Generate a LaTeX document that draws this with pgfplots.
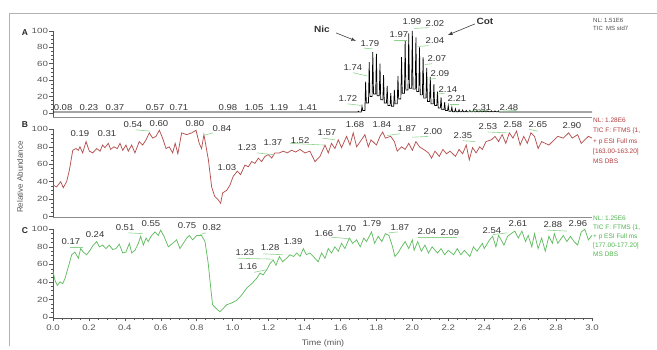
\documentclass[border=0pt]{standalone}
\usepackage{fontspec}
\setmainfont{Liberation Sans}
\usepackage{pgfplots}
\pgfplotsset{compat=1.18}
\definecolor{tracered}{HTML}{B5504F}
\definecolor{tracegreen}{HTML}{62BE62}
\definecolor{leader}{HTML}{8ED48E}
\definecolor{txtred}{HTML}{B03A3A}
\definecolor{txtgreen}{HTML}{4DB34D}
\definecolor{axgray}{HTML}{555555}
\pgfplotsset{
 panel/.style={
  scale only axis, width=539pt, xmin=0, xmax=3,
  axis x line*=bottom, axis y line*=left, clip=false,
  ytick={0,20,40,60,80,100}, minor y tick num=3,
  tick align=outside,
  major tick length=3.5pt, minor tick length=2pt,
  tick style={axgray, line width=0.5pt},
  axis line style={axgray, line width=0.7pt},
  yticklabel style={font=\fontsize{7.5}{8}\selectfont, text=axgray, inner sep=1pt, xscale=1.3},
  xticklabel style={font=\fontsize{8}{9}\selectfont, text=axgray, xscale=1.2},
  /pgf/number format/assume math mode=true,
 },
}
\tikzset{
 lab/.style={font=\fontsize{8.5}{9}\selectfont, text=black!80, inner sep=0pt, xscale=1.12},
 ld/.style={leader, line width=0.6pt},
}
\begin{document}
\begin{tikzpicture}
\useasboundingbox (0pt,0pt) rectangle (657pt,349pt);
\draw[black!30, line width=0.8pt] (9pt,3pt) -- (9pt,336pt) -- (657pt,336pt);

% ---------------- Panel A ----------------
\begin{axis}[panel, at={(53pt,232pt)}, anchor=south west, height=86.1pt,
  ymin=-5, ymax=100, xtick=\empty, x axis line style={black!45, line width=1pt}]
\addplot[black, line width=0.7pt] coordinates {
(0,1)(0.5,1)(1.0,1)(1.5,1)(1.696,1)(1.70,2)(1.704,1)
(1.716,1)(1.72,8)(1.724,3)
(1.736,3)(1.74,38)(1.744,12)
(1.756,12)(1.76,62)(1.764,20)
(1.776,20)(1.78,74)(1.784,23)
(1.796,23)(1.80,72)(1.804,21)
(1.816,21)(1.82,60)(1.824,16)
(1.836,16)(1.84,46)(1.844,12)
(1.856,12)(1.86,33)(1.864,9)
(1.876,9)(1.88,24)(1.884,8)
(1.896,8)(1.90,28)(1.904,11)
(1.916,11)(1.92,45)(1.924,17)
(1.936,17)(1.94,68)(1.944,24)
(1.956,24)(1.96,88)(1.964,28)
(1.976,28)(1.98,97)(1.984,30)
(1.996,30)(2.00,100)(2.004,29)
(2.016,29)(2.02,92)(2.024,26)
(2.036,26)(2.04,80)(2.044,22)
(2.056,22)(2.06,68)(2.064,18)
(2.076,18)(2.08,55)(2.084,14)
(2.096,14)(2.10,44)(2.104,11)
(2.116,11)(2.12,35)(2.124,9)
(2.136,9)(2.14,26)(2.144,6)
(2.156,6)(2.16,19)(2.164,4)
(2.176,4)(2.18,13)(2.184,3)
(2.196,3)(2.20,9)(2.204,2)
(2.216,2)(2.22,7)(2.224,1.5)
(2.236,1.5)(2.24,5)(2.244,1.5)
(2.256,1.5)(2.26,4)(2.264,1.5)
(2.276,1.5)(2.28,3.5)(2.284,1.5)
(2.296,1.5)(2.30,3)(2.304,1.5)
(2.316,1.5)(2.32,3)(2.324,1.5)
(2.336,1.5)(2.34,3)(2.344,1.5)
(2.356,1.5)(2.36,3)(2.364,1.5)
(2.376,1.5)(2.38,3)(2.384,1.5)
(2.396,1.5)(2.40,3)(2.404,1.5)
(2.416,1.5)(2.42,2.5)(2.424,1.5)
(2.436,1.5)(2.44,2.5)(2.444,1.5)
(2.456,1.5)(2.46,2.5)(2.464,1.5)
(2.476,1.5)(2.48,2.5)(2.484,1)
(2.6,1)(3.0,1)};
\node[lab] at (axis cs:0.056,6.1) {0.08};
\node[lab] at (axis cs:0.200,6.1) {0.23};
\node[lab] at (axis cs:0.345,6.1) {0.37};
\node[lab] at (axis cs:0.568,6.1) {0.57};
\node[lab] at (axis cs:0.701,6.1) {0.71};
\node[lab] at (axis cs:0.974,6.1) {0.98};
\node[lab] at (axis cs:1.119,6.1) {1.05};
\node[lab] at (axis cs:1.258,6.1) {1.19};
\node[lab] at (axis cs:1.419,6.1) {1.41};
\node[lab] at (axis cs:1.642,17) {1.72};
\node[lab] at (axis cs:1.669,55) {1.74};
\node[lab] at (axis cs:1.764,85) {1.79};
\node[lab] at (axis cs:1.925,96) {1.97};
\node[lab] at (axis cs:1.998,111) {1.99};
\node[lab] at (axis cs:2.126,109) {2.02};
\node[lab] at (axis cs:2.126,88) {2.04};
\node[lab] at (axis cs:2.137,66) {2.07};
\node[lab] at (axis cs:2.154,48) {2.09};
\node[lab] at (axis cs:2.198,29) {2.14};
\node[lab] at (axis cs:2.248,17) {2.21};
\node[lab] at (axis cs:2.387,7) {2.31};
\node[lab] at (axis cs:2.538,7) {2.48};
\draw[ld] (axis cs:1.64,11) -- (axis cs:1.72,9);
\draw[ld] (axis cs:1.67,49) -- (axis cs:1.75,45);
\draw[ld] (axis cs:1.73,79) -- (axis cs:1.78,78);
\draw[ld] (axis cs:1.90,89) -- (axis cs:1.97,89);
\draw[ld] (axis cs:2.01,103) -- (axis cs:2.09,104);
\draw[ld] (axis cs:2.03,81) -- (axis cs:2.09,82);
\draw[ld] (axis cs:2.07,59) -- (axis cs:2.11,60);
\draw[ld] (axis cs:2.09,41) -- (axis cs:2.13,42);
\draw[ld] (axis cs:2.14,23) -- (axis cs:2.18,24);
\draw[ld] (axis cs:2.21,11) -- (axis cs:2.26,11);
\draw[ld] (axis cs:2.31,2) -- (axis cs:2.42,3);
\draw[ld] (axis cs:2.48,2) -- (axis cs:2.58,3);
\node[font=\fontsize{9}{10}\selectfont\bfseries, text=black!80, inner sep=0pt, xscale=1.12] at (axis cs:1.497,102) {Nic};
\draw[-latex, black!75, line width=0.6pt] (axis cs:1.575,97.6) -- (axis cs:1.686,87.8);
\node[font=\fontsize{9}{10}\selectfont\bfseries, text=black!80, inner sep=0pt, xscale=1.12] at (axis cs:2.404,111) {Cot};
\draw[-latex, black!75, line width=0.6pt] (axis cs:2.348,108.5) -- (axis cs:2.198,95);
\end{axis}

% ---------------- Panel B ----------------
\begin{axis}[panel, at={(53pt,131.7pt)}, anchor=south west, height=87.9pt,
  ymin=-1, ymax=100, xtick=\empty, x axis line style={black!45, line width=1pt}]
\addplot[tracered, line width=0.75pt] coordinates {
(0,36)(0.02,34)(0.043,40)(0.057,33)(0.076,40)(0.091,53)(0.11,76)(0.128,78)(0.141,76)(0.15,80)(0.165,73)
(0.184,86)(0.202,75)(0.221,73)(0.243,78)(0.262,75)(0.276,82)(0.289,79)(0.308,84)(0.321,77)(0.339,80)
(0.358,78)(0.373,84)(0.388,76)(0.406,82)(0.419,75)(0.438,82)(0.456,73)(0.48,86)(0.499,82)(0.518,88)
(0.536,96)(0.555,90)(0.573,92)(0.592,99)(0.61,90)(0.629,78)(0.647,80)(0.666,73)(0.68,84)(0.695,72)
(0.716,96)(0.744,94)(0.772,96)(0.796,99)(0.814,84)(0.827,78)(0.84,94)(0.865,65)(0.883,34)(0.9,23)
(0.92,19)(0.933,15)(0.944,27)(0.967,30)(0.985,36)(1.003,46)(1.026,52)(1.044,48)(1.068,59)(1.087,57)
(1.106,63)(1.124,61)(1.143,67)(1.161,63)(1.18,69)(1.198,71)(1.217,67)(1.235,73)(1.26,73)(1.282,75)
(1.304,73)(1.328,76)(1.35,74)(1.375,77)(1.402,73)(1.43,75)(1.458,63)(1.486,69)(1.514,82)(1.532,73)
(1.55,84)(1.569,78)(1.588,88)(1.606,79)(1.634,92)(1.653,82)(1.671,96)(1.69,80)(1.71,86)(1.736,94)
(1.755,80)(1.77,88)(1.8,82)(1.82,92)(1.835,97)(1.85,90)(1.88,92)(1.9,86)(1.916,75)(1.94,80)(1.96,77)
(1.98,84)(2.0,76)(2.02,86)(2.04,80)(2.07,76)(2.09,73)(2.107,67)(2.126,75)(2.15,69)(2.17,77)(2.19,72)
(2.21,75)(2.24,69)(2.26,77)(2.28,72)(2.3,82)(2.317,65)(2.335,79)(2.355,73)(2.375,80)(2.39,77)(2.41,86)
(2.44,88)(2.46,92)(2.48,86)(2.5,94)(2.52,84)(2.54,96)(2.56,90)(2.58,98)(2.6,82)(2.62,92)(2.64,84)
(2.66,96)(2.68,92)(2.7,78)(2.72,86)(2.74,84)(2.76,82)(2.79,88)(2.81,92)(2.84,90)(2.87,96)(2.89,90)
(2.92,94)(2.94,84)(2.96,88)(2.98,92)(3.0,90)};
\node[lab] at (axis cs:0.150,94.8) {0.19};
\node[lab] at (axis cs:0.300,94.8) {0.31};
\node[lab] at (axis cs:0.445,106) {0.54};
\node[lab] at (axis cs:0.590,107) {0.60};
\node[lab] at (axis cs:0.790,107) {0.80};
\node[lab] at (axis cs:0.940,100.5) {0.84};
\node[lab] at (axis cs:0.968,55.7) {1.03};
\node[lab] at (axis cs:1.080,78.7) {1.23};
\node[lab] at (axis cs:1.224,84.4) {1.37};
\node[lab] at (axis cs:1.375,86.7) {1.52};
\node[lab] at (axis cs:1.525,95.9) {1.57};
\node[lab] at (axis cs:1.681,105) {1.68};
\node[lab] at (axis cs:1.831,105) {1.84};
\node[lab] at (axis cs:1.970,100.5) {1.87};
\node[lab] at (axis cs:2.115,97) {2.00};
\node[lab] at (axis cs:2.282,92.5) {2.35};
\node[lab] at (axis cs:2.421,103) {2.53};
\node[lab] at (axis cs:2.560,106) {2.58};
\node[lab] at (axis cs:2.699,106) {2.65};
\node[lab] at (axis cs:2.888,104) {2.90};
\draw[ld] (axis cs:0.46,99.5) -- (axis cs:0.54,98);
\draw[ld] (axis cs:0.835,93) -- (axis cs:0.89,96);
\draw[ld] (axis cs:1.135,73) -- (axis cs:1.224,71);
\draw[ld] (axis cs:1.32,84) -- (axis cs:1.51,82);
\draw[ld] (axis cs:1.50,90) -- (axis cs:1.57,88);
\draw[ld] (axis cs:1.86,93) -- (axis cs:1.93,95);
\draw[ld] (axis cs:2.00,91) -- (axis cs:2.09,92);
\draw[ld] (axis cs:2.28,87) -- (axis cs:2.35,86);
\draw[ld] (axis cs:2.42,97) -- (axis cs:2.53,96);
\draw[ld] (axis cs:2.65,100) -- (axis cs:2.70,98);
\end{axis}

% ---------------- Panel C ----------------
\begin{axis}[panel, at={(53pt,31.1pt)}, anchor=south west, height=88.6pt,
  ymin=-1, ymax=100,
  xtick={0,0.2,0.4,0.6,0.8,1.0,1.2,1.4,1.6,1.8,2.0,2.2,2.4,2.6,2.8,3.0},
  xticklabels={0.0,0.2,0.4,0.6,0.8,1.0,1.2,1.4,1.6,1.8,2.0,2.2,2.4,2.6,2.8,3.0},
  minor x tick num=3]
\addplot[tracegreen, line width=0.75pt] coordinates {
(0,52)(0.011,42)(0.024,36)(0.039,40)(0.054,38)(0.067,44)(0.085,57)(0.104,71)(0.122,74)(0.141,67)(0.154,78)
(0.169,74)(0.187,71)(0.206,76)(0.224,82)(0.243,86)(0.258,80)(0.276,82)(0.295,78)(0.313,82)(0.332,77)
(0.35,78)(0.369,83)(0.388,73)(0.406,74)(0.425,84)(0.438,73)(0.456,76)(0.475,84)(0.488,92)(0.503,82)
(0.518,90)(0.53,86)(0.549,93)(0.568,97)(0.586,93)(0.599,99)(0.618,92)(0.642,80)(0.666,84)(0.688,88)
(0.707,78)(0.725,84)(0.744,90)(0.759,93)(0.777,88)(0.8,93)(0.827,93)(0.846,86)(0.864,61)(0.877,35)
(0.888,14)(0.907,10)(0.929,6)(0.948,10)(0.967,14)(0.994,16)(1.022,19)(1.05,25)(1.078,33)(1.106,38)
(1.133,44)(1.152,50)(1.17,48)(1.19,54)(1.208,61)(1.226,65)(1.241,59)(1.26,69)(1.278,63)(1.3,67)
(1.319,71)(1.34,69)(1.356,73)(1.375,69)(1.393,78)(1.41,71)(1.43,73)(1.449,69)(1.476,63)(1.495,73)
(1.514,67)(1.532,78)(1.55,73)(1.569,80)(1.588,75)(1.606,84)(1.625,78)(1.649,90)(1.668,84)(1.69,88)
(1.71,80)(1.73,90)(1.745,86)(1.773,97)(1.79,84)(1.81,92)(1.83,86)(1.85,95)(1.87,93)(1.89,80)(1.903,69)
(1.92,73)(1.94,80)(1.96,86)(1.98,78)(2.0,88)(2.01,76)(2.03,86)(2.05,75)(2.07,82)(2.09,73)(2.11,80)
(2.14,73)(2.16,78)(2.18,71)(2.2,76)(2.23,71)(2.25,78)(2.27,71)(2.29,76)(2.32,69)(2.34,80)(2.36,75)
(2.39,84)(2.4,78)(2.43,88)(2.447,92)(2.465,80)(2.48,93)(2.51,82)(2.53,92)(2.55,95)(2.57,98)(2.59,90)
(2.61,98)(2.63,86)(2.645,93)(2.665,80)(2.68,95)(2.7,78)(2.72,90)(2.74,75)(2.76,92)(2.78,84)(2.79,95)
(2.81,84)(2.84,93)(2.86,86)(2.88,92)(2.9,86)(2.92,82)(2.94,97)(2.96,100)(2.98,88)(3.0,93)};
\node[lab] at (axis cs:0.100,85.5) {0.17};
\node[lab] at (axis cs:0.234,93.5) {0.24};
\node[lab] at (axis cs:0.401,101.5) {0.51};
\node[lab] at (axis cs:0.545,107) {0.55};
\node[lab] at (axis cs:0.746,104) {0.75};
\node[lab] at (axis cs:0.885,101.5) {0.82};
\node[lab] at (axis cs:1.068,73) {1.23};
\node[lab] at (axis cs:1.208,78.7) {1.28};
\node[lab] at (axis cs:1.085,57) {1.16};
\node[lab] at (axis cs:1.336,85.5) {1.39};
\node[lab] at (axis cs:1.508,94.6) {1.66};
\node[lab] at (axis cs:1.636,100.3) {1.70};
\node[lab] at (axis cs:1.775,106) {1.79};
\node[lab] at (axis cs:1.931,101.5) {1.87};
\node[lab] at (axis cs:2.081,97) {2.04};
\node[lab] at (axis cs:2.209,95.8) {2.09};
\node[lab] at (axis cs:2.443,98) {2.54};
\node[lab] at (axis cs:2.588,107) {2.61};
\node[lab] at (axis cs:2.782,105) {2.88};
\node[lab] at (axis cs:2.922,107) {2.96};
\draw[ld] (axis cs:0.095,79) -- (axis cs:0.167,79);
\draw[ld] (axis cs:0.417,96) -- (axis cs:0.50,95);
\draw[ld] (axis cs:0.85,96) -- (axis cs:0.82,94);
\draw[ld] (axis cs:1.03,67) -- (axis cs:1.224,66);
\draw[ld] (axis cs:1.12,51) -- (axis cs:1.19,54);
\draw[ld] (axis cs:1.17,72) -- (axis cs:1.28,71);
\draw[ld] (axis cs:1.55,91) -- (axis cs:1.66,89);
\draw[ld] (axis cs:1.87,96) -- (axis cs:1.92,97);
\draw[ld] (axis cs:2.03,91) -- (axis cs:2.25,91);
\draw[ld] (axis cs:2.45,94) -- (axis cs:2.53,96);
\draw[ld] (axis cs:2.75,99) -- (axis cs:2.86,98);
\end{axis}

% ---------------- texts ----------------
\node[font=\fontsize{8.5}{9}\selectfont\bfseries, text=black!85] at (25pt,316pt) {A};
\node[font=\fontsize{8.5}{9}\selectfont\bfseries, text=black!85] at (25pt,224pt) {B};
\node[font=\fontsize{8.5}{9}\selectfont\bfseries, text=black!85] at (25pt,118pt) {C};
\node[rotate=90, font=\fontsize{8}{9}\selectfont, text=axgray] at (20pt,172pt) {Relative Abundance};
\node[font=\fontsize{8}{9}\selectfont, text=axgray, xscale=1.12] at (323pt,6pt) {Time (min)};
\node[anchor=north west, align=left, inner sep=0pt, text=black!70,
  font=\fontsize{6}{8}\selectfont] at (593pt,331pt) {NL: 1.51E6\\TIC\ \ MS std7};
\node[anchor=north west, align=left, inner sep=0pt, text=txtred,
  font=\fontsize{6.5}{10.2}\selectfont] at (593pt,231pt) {NL: 1.28E6\\TIC F: FTMS \{1,\\+ p ESI Full ms\\{[}163.00-163.20{]}\\MS DBS};
\node[anchor=north west, align=left, inner sep=0pt, text=txtgreen,
  font=\fontsize{6.5}{9}\selectfont] at (593pt,133pt) {NL: 1.25E6\\TIC F: FTMS \{1,\\+ p ESI Full ms\\{[}177.00-177.20{]}\\MS DBS};
\end{tikzpicture}
\end{document}
